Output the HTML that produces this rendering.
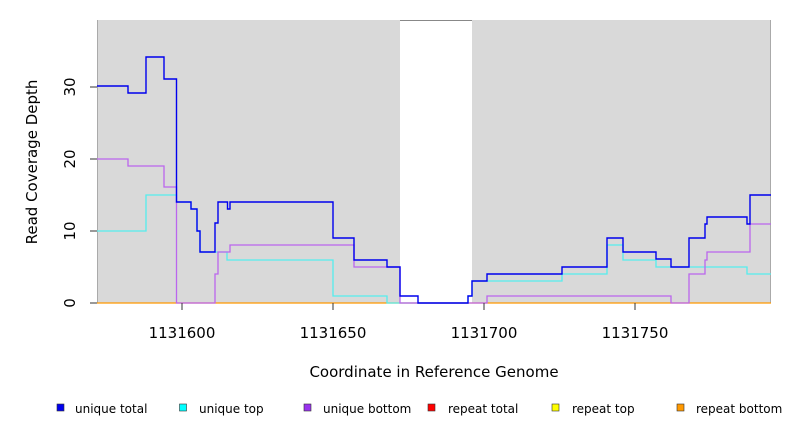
<!DOCTYPE html>
<html><head><style>
html,body{margin:0;padding:0;background:#fff;width:792px;height:432px;overflow:hidden}
svg{display:block}
text{font-family:"DejaVu Sans","Liberation Sans",sans-serif}
</style></head><body>
<svg width="792" height="432" viewBox="0 0 792 432">
<rect x="97" y="20" width="303" height="283" fill="#d9d9d9"/>
<rect x="472" y="20" width="299" height="283" fill="#d9d9d9"/>
<line x1="400" y1="20.5" x2="472" y2="20.5" stroke="#888" stroke-width="1"/>
<line x1="97.5" y1="20" x2="97.5" y2="303" stroke="#aaa"/>
<line x1="770.5" y1="20" x2="770.5" y2="303" stroke="#aaa"/>
<line x1="97" y1="303" x2="771" y2="303" stroke="#ff9900" stroke-width="1.2"/>
<polyline fill="none" stroke="#55eeee" stroke-width="1.3" points="97,231 146,231 146,195 176.5,195 176.5,202 191,202 191,209 197,209 197,231 200,231 200,252 227,252 227,260 333,260 333,296 387,296 387,303 468,303 468,296 472,296 472,281 562,281 562,274 607,274 607,245 623,245 623,260 656,260 656,267 747,267 747,274 771,274"/>
<polyline fill="none" stroke="#bb66ee" stroke-width="1.3" points="97,159 128,159 128,166 164,166 164,187 176.5,187 176.5,303 215,303 215,274 218,274 218,252 230,252 230,245 354,245 354,267 400,267 400,303 487,303 487,296 671,296 671,303 689,303 689,274 705,274 705,260 707,260 707,252 750,252 750,224 771,224"/>
<polyline fill="none" stroke="#0000ee" stroke-width="1.4" points="97,86 128,86 128,93 146,93 146,57 164,57 164,79 176.5,79 176.5,202 191,202 191,209 197,209 197,231 200,231 200,252 215,252 215,223 218,223 218,202 227.5,202 227.5,209 230,209 230,202 333,202 333,238 354,238 354,260 387,260 387,267 400,267 400,296 418,296 418,303 468,303 468,296 472,296 472,281 487,281 487,274 562,274 562,267 607,267 607,238 623,238 623,252 656,252 656,259 671,259 671,267 689,267 689,238 705,238 705,224 707,224 707,217 747,217 747,224 750,224 750,195 771,195"/>
<g stroke="#333" stroke-width="1">
<line x1="90" y1="303" x2="97" y2="303"/><line x1="90" y1="231" x2="97" y2="231"/><line x1="90" y1="159" x2="97" y2="159"/><line x1="90" y1="87" x2="97" y2="87"/>
<line x1="182" y1="303" x2="182" y2="310"/><line x1="333" y1="303" x2="333" y2="310"/><line x1="484" y1="303" x2="484" y2="310"/><line x1="635" y1="303" x2="635" y2="310"/>
</g>
<g font-size="15" fill="#000" text-anchor="middle">
<text transform="translate(75,303) rotate(-90)">0</text>
<text transform="translate(75,231) rotate(-90)">10</text>
<text transform="translate(75,159) rotate(-90)">20</text>
<text transform="translate(75,87) rotate(-90)">30</text>
<text x="182" y="338">1131600</text>
<text x="333" y="338">1131650</text>
<text x="484" y="338">1131700</text>
<text x="635" y="338">1131750</text>
<text x="434" y="377">Coordinate in Reference Genome</text>
<text transform="translate(37,162) rotate(-90)">Read Coverage Depth</text>
</g>
<g font-size="12" fill="#000">
<rect x="57" y="404" width="7" height="7" fill="#0000ee" stroke="#333" stroke-width="0.6"/><text x="75" y="413">unique total</text>
<rect x="179.5" y="404" width="7" height="7" fill="#00ffff" stroke="#333" stroke-width="0.6"/><text x="199" y="413">unique top</text>
<rect x="304" y="404" width="7" height="7" fill="#9933ee" stroke="#333" stroke-width="0.6"/><text x="323" y="413">unique bottom</text>
<rect x="428" y="404" width="7" height="7" fill="#ff0000" stroke="#333" stroke-width="0.6"/><text x="448" y="413">repeat total</text>
<rect x="552" y="404" width="7" height="7" fill="#ffff00" stroke="#333" stroke-width="0.6"/><text x="572" y="413">repeat top</text>
<rect x="677" y="404" width="7" height="7" fill="#ff9900" stroke="#333" stroke-width="0.6"/><text x="696" y="413">repeat bottom</text>
</g>
</svg>
</body></html>
